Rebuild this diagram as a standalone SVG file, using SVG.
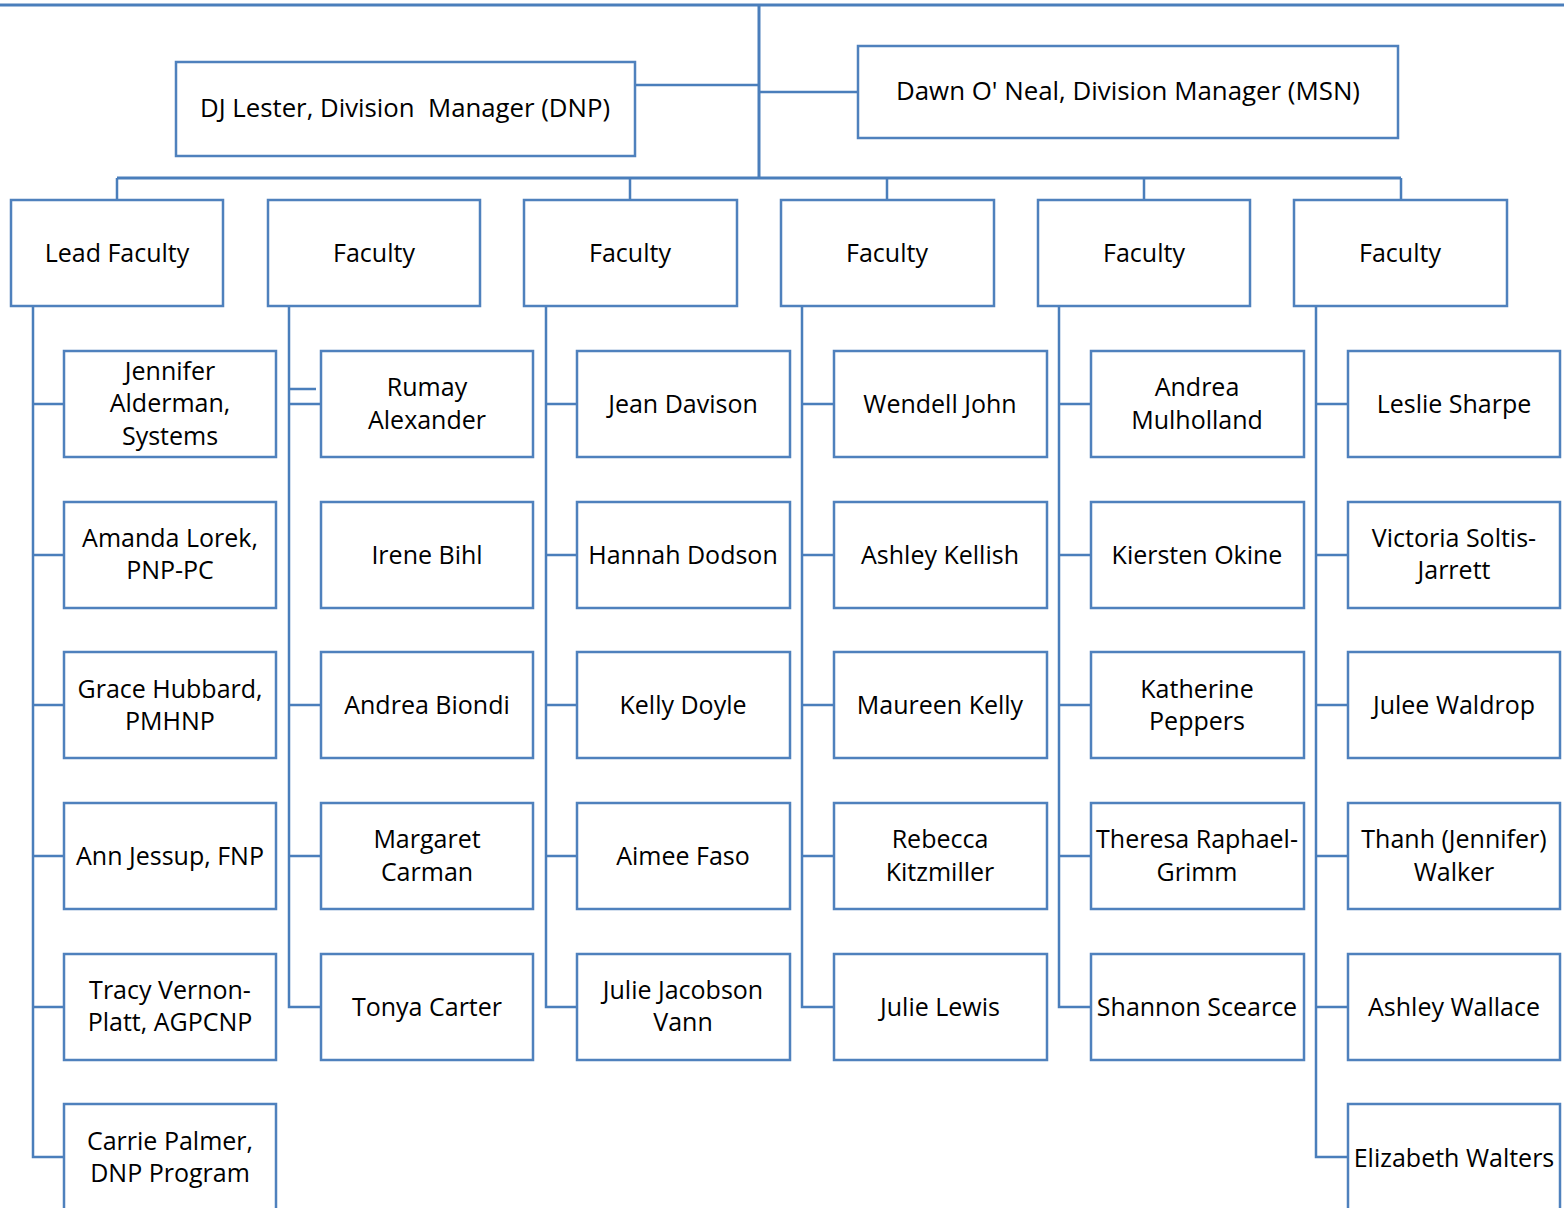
<svg xmlns="http://www.w3.org/2000/svg" width="1564" height="1208" viewBox="0 0 1564 1208">
<style>
.box{fill:#fff;stroke:#4F81BD;stroke-width:2.5}
.ln{fill:none;stroke:#4A7EBB;stroke-width:2.5}
.tk{fill:none;stroke:#4A7EBB;stroke-width:3}
text{font-family:"Open Sans","Liberation Sans",sans-serif;font-size:25px;fill:#000;text-anchor:middle}
</style>
<rect width="1564" height="1208" fill="#fff"/>
<g id="connectors">
<path class="tk" d="M0 5H1564M759 5V178M117 178H1401"/>
<path class="ln" d="M635 85H759M759 92H858"/>
<path class="ln" d="M117 178V200M630 178V200M887 178V200M1144 178V200M1401 178V200"/>
<path class="ln" d="M33 306V1157H64M33 404H64M33 555H64M33 705H64M33 856H64M33 1007H64"/>
<path class="ln" d="M289 306V1007H321M289 389H316M289 404H321M289 705H321M289 856H321"/>
<path class="ln" d="M546 306V1007H577M546 404H577M546 555H577M546 705H577M546 856H577"/>
<path class="ln" d="M802 306V1007H834M802 404H834M802 555H834M802 705H834M802 856H834"/>
<path class="ln" d="M1059 306V1007H1091M1059 404H1091M1059 555H1091M1059 705H1091M1059 856H1091"/>
<path class="ln" d="M1316 306V1157H1348M1316 404H1348M1316 555H1348M1316 705H1348M1316 856H1348M1316 1007H1348"/>
</g>
<g id="dj"><rect class="box" x="176" y="62" width="459" height="94"/><text x="405" y="117" textLength="410" lengthAdjust="spacingAndGlyphs" xml:space="preserve">DJ Lester, Division  Manager (DNP)</text></g>
<g id="dawn"><rect class="box" x="858" y="46" width="540" height="92"/><text x="1128" y="100" textLength="464" lengthAdjust="spacingAndGlyphs">Dawn O' Neal, Division Manager (MSN)</text></g>
<g id="lead"><rect class="box" x="11" y="200" width="212" height="106"/><text x="117" y="262">Lead Faculty</text></g>
<g id="fac2"><rect class="box" x="268" y="200" width="212" height="106"/><text x="374" y="262">Faculty</text></g>
<g id="fac3"><rect class="box" x="524" y="200" width="213" height="106"/><text x="630" y="262">Faculty</text></g>
<g id="fac4"><rect class="box" x="781" y="200" width="213" height="106"/><text x="887" y="262">Faculty</text></g>
<g id="fac5"><rect class="box" x="1038" y="200" width="212" height="106"/><text x="1144" y="262">Faculty</text></g>
<g id="fac6"><rect class="box" x="1294" y="200" width="213" height="106"/><text x="1400" y="262">Faculty</text></g>

<g id="c1r1"><rect class="box" x="64" y="351" width="212" height="106"/><text x="170" y="380">Jennifer</text><text x="170" y="412">Alderman,</text><text x="170" y="445">Systems</text></g>
<g id="c1r2"><rect class="box" x="64" y="502" width="212" height="106"/><text x="170" y="547">Amanda Lorek,</text><text x="170" y="579">PNP-PC</text></g>
<g id="c1r3"><rect class="box" x="64" y="652" width="212" height="106"/><text x="170" y="698">Grace Hubbard,</text><text x="170" y="730">PMHNP</text></g>
<g id="c1r4"><rect class="box" x="64" y="803" width="212" height="106"/><text x="170" y="865">Ann Jessup, FNP</text></g>
<g id="c1r5"><rect class="box" x="64" y="954" width="212" height="106"/><text x="170" y="999">Tracy Vernon-</text><text x="170" y="1031">Platt, AGPCNP</text></g>
<g id="c1r6"><rect class="box" x="64" y="1104" width="212" height="110"/><text x="170" y="1150">Carrie Palmer,</text><text x="170" y="1182">DNP Program</text></g>

<g id="c2r1"><rect class="box" x="321" y="351" width="212" height="106"/><text x="427" y="396">Rumay</text><text x="427" y="429">Alexander</text></g>
<g id="c2r2"><rect class="box" x="321" y="502" width="212" height="106"/><text x="427" y="564">Irene Bihl</text></g>
<g id="c2r3"><rect class="box" x="321" y="652" width="212" height="106"/><text x="427" y="714">Andrea Biondi</text></g>
<g id="c2r4"><rect class="box" x="321" y="803" width="212" height="106"/><text x="427" y="848">Margaret</text><text x="427" y="881">Carman</text></g>
<g id="c2r5"><rect class="box" x="321" y="954" width="212" height="106"/><text x="427" y="1016">Tonya Carter</text></g>

<g id="c3r1"><rect class="box" x="577" y="351" width="213" height="106"/><text x="683" y="413">Jean Davison</text></g>
<g id="c3r2"><rect class="box" x="577" y="502" width="213" height="106"/><text x="683" y="564">Hannah Dodson</text></g>
<g id="c3r3"><rect class="box" x="577" y="652" width="213" height="106"/><text x="683" y="714">Kelly Doyle</text></g>
<g id="c3r4"><rect class="box" x="577" y="803" width="213" height="106"/><text x="683" y="865">Aimee Faso</text></g>
<g id="c3r5"><rect class="box" x="577" y="954" width="213" height="106"/><text x="683" y="999">Julie Jacobson</text><text x="683" y="1031">Vann</text></g>

<g id="c4r1"><rect class="box" x="834" y="351" width="213" height="106"/><text x="940" y="413">Wendell John</text></g>
<g id="c4r2"><rect class="box" x="834" y="502" width="213" height="106"/><text x="940" y="564">Ashley Kellish</text></g>
<g id="c4r3"><rect class="box" x="834" y="652" width="213" height="106"/><text x="940" y="714">Maureen Kelly</text></g>
<g id="c4r4"><rect class="box" x="834" y="803" width="213" height="106"/><text x="940" y="848">Rebecca</text><text x="940" y="881">Kitzmiller</text></g>
<g id="c4r5"><rect class="box" x="834" y="954" width="213" height="106"/><text x="940" y="1016">Julie Lewis</text></g>

<g id="c5r1"><rect class="box" x="1091" y="351" width="213" height="106"/><text x="1197" y="396">Andrea</text><text x="1197" y="429">Mulholland</text></g>
<g id="c5r2"><rect class="box" x="1091" y="502" width="213" height="106"/><text x="1197" y="564">Kiersten Okine</text></g>
<g id="c5r3"><rect class="box" x="1091" y="652" width="213" height="106"/><text x="1197" y="698">Katherine</text><text x="1197" y="730">Peppers</text></g>
<g id="c5r4"><rect class="box" x="1091" y="803" width="213" height="106"/><text x="1197" y="848">Theresa Raphael-</text><text x="1197" y="881">Grimm</text></g>
<g id="c5r5"><rect class="box" x="1091" y="954" width="213" height="106"/><text x="1197" y="1016">Shannon Scearce</text></g>

<g id="c6r1"><rect class="box" x="1348" y="351" width="212" height="106"/><text x="1454" y="413">Leslie Sharpe</text></g>
<g id="c6r2"><rect class="box" x="1348" y="502" width="212" height="106"/><text x="1454" y="547">Victoria Soltis-</text><text x="1454" y="579">Jarrett</text></g>
<g id="c6r3"><rect class="box" x="1348" y="652" width="212" height="106"/><text x="1454" y="714">Julee Waldrop</text></g>
<g id="c6r4"><rect class="box" x="1348" y="803" width="212" height="106"/><text x="1454" y="848">Thanh (Jennifer)</text><text x="1454" y="881">Walker</text></g>
<g id="c6r5"><rect class="box" x="1348" y="954" width="212" height="106"/><text x="1454" y="1016">Ashley Wallace</text></g>
<g id="c6r6"><rect class="box" x="1348" y="1104" width="212" height="110"/><text x="1454" y="1167">Elizabeth Walters</text></g>
</svg>
